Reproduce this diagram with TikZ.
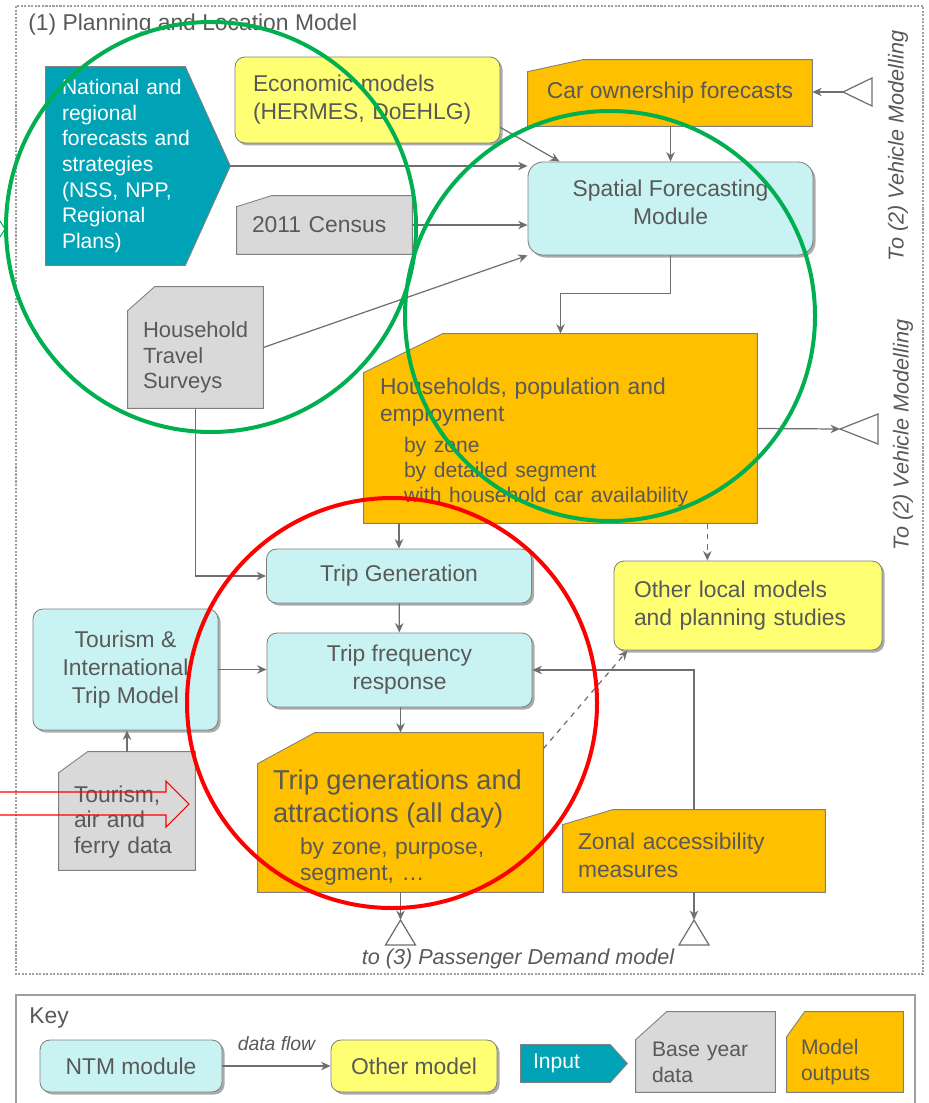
\documentclass[tikz,border=0pt]{standalone}
\usepackage{fontspec}
\setmainfont{Liberation Sans}
\usepackage{xcolor}
\usetikzlibrary{shapes,arrows.meta,positioning,calc,backgrounds,shadows}
\definecolor{ntmcyan}{HTML}{C9F3F3}
\definecolor{othyellow}{HTML}{FFFF73}
\definecolor{inteal}{HTML}{00A3B5}
\definecolor{basegrey}{HTML}{D9D9D9}
\definecolor{outorange}{HTML}{FFC000}
\definecolor{txtgrey}{HTML}{595959}
\definecolor{edgegrey}{HTML}{808080}
\definecolor{linegrey}{HTML}{6F6F6F}
\definecolor{markgreen}{HTML}{00B050}
\definecolor{markred}{HTML}{FF0000}
\hyphenpenalty=10000
\exhyphenpenalty=10000
\tikzset{
    module/.style={rectangle,draw=edgegrey,line width=0.5pt,fill=ntmcyan,rounded corners=0.2cm,
                   drop shadow={shadow xshift=0.05cm,shadow yshift=-0.05cm,fill=black!55,opacity=0.6},
                   text=txtgrey,align=center,inner sep=0pt,font=\fontsize{13}{16}\selectfont},
    cutbox/.style={rectangle,inner ysep=0pt,text=txtgrey,align=left,font=\fontsize{13}{16}\selectfont},
    arrow/.style={->,>={Stealth[length=0.19cm,width=0.17cm]},draw=linegrey,line width=0.7pt},
}

\begin{document}
\begin{tikzpicture}[
    x=0.2mm, y=-0.2mm,
    note/.style={text=txtgrey,font=\fontsize{12.3}{14}\selectfont\itshape,inner sep=0pt},
    endmark/.style={draw=linegrey,line width=0.7pt,fill=white},
    frame/.style={draw=gray!75,line width=0.6pt,dash pattern=on 1.2pt off 0.8pt},
    shapefill/.style={draw=edgegrey,line width=0.5pt},
    ring/.style={line width=0.08cm},
]
    \useasboundingbox (0,0) rectangle (928,1103);

    % ---- title ----
    \node[anchor=west,text=txtgrey,font=\fontsize{13}{16}\selectfont,inner sep=0pt] (title) at (28,25)
        {(1) Planning and Location Model};

    % ---- inputs and base data ----
    \node[cutbox,text=white,font=\fontsize{12}{14.6}\selectfont,text width=3.04cm,inner xsep=0.32cm,
          minimum width=3.68cm,minimum height=3.96cm] (nat) at (138,166)
        {National and\\regional\\forecasts and\\strategies\\(NSS, NPP,\\Regional\\Plans)};
    \node[module,fill=othyellow,align=left,text width=4.58cm,inner xsep=0.36cm,
          minimum width=5.3cm,minimum height=1.72cm] (eco) at (367.5,100)
        {Economic models\\(HERMES, DoEHLG)};
    \node[cutbox,align=center,minimum width=5.68cm,minimum height=1.32cm] (car) at (670,93)
        {Car ownership forecasts\rule[-0.12cm]{0pt}{0.12cm}};
    \node[cutbox,text width=2.9cm,inner xsep=0.3cm,minimum width=3.5cm,minimum height=1.16cm] (cen) at (324.5,225)
        {2011 Census};
    \node[cutbox,font=\fontsize{12.5}{14.5}\selectfont,text width=2.1cm,inner xsep=0.3cm,
          minimum width=2.7cm,minimum height=2.42cm] (hts) at (195.5,347.5)
        {\rule{0pt}{0.73cm}Household\\Travel\\Surveys};

    % ---- modules ----
    \node[module,rounded corners=0.3cm,minimum width=5.7cm,minimum height=1.86cm] (sp) at (670.5,208.5)
        {Spatial Forecasting\\Module\rule[-0.24cm]{0pt}{0.24cm}};
    \node[cutbox,font=\fontsize{13}{15.2}\selectfont,text width=7.22cm,inner xsep=0.32cm,
          minimum width=7.86cm,minimum height=3.78cm] (hh) at (560.5,428.5)
        {\rule{0pt}{0.9cm}Households, population and\\
         employment\\[3pt]
         {\fontsize{12}{14.4}\selectfont
         \hspace*{0.48cm}by zone\\
         \hspace*{0.48cm}by detailed segment\\
         \hspace*{0.48cm}with household car availability\par}};
    \node[module,fill=othyellow,align=left,text width=4.56cm,inner xsep=0.4cm,
          minimum width=5.36cm,minimum height=1.78cm] (oth) at (748,605.5)
        {Other local models\\and planning studies};
    \node[module,minimum width=5.3cm,minimum height=1.08cm] (tg) at (399,576)
        {Trip Generation};
    \node[module,minimum width=5.3cm,minimum height=1.48cm] (tf) at (399.5,670)
        {Trip frequency\\response};
    \node[module,minimum width=3.7cm,minimum height=2.42cm] (tim) at (125.5,669.5)
        {Tourism \&\\International\\Trip Model};
    \node[cutbox,font=\fontsize{13}{14.7}\selectfont,text width=2.12cm,inner xsep=0.3cm,
          minimum width=2.72cm,minimum height=2.36cm] (tdat) at (127,811)
        {\rule{0pt}{0.77cm}Tourism,\\air and\\ferry data};
    \node[cutbox,font=\fontsize{13}{14.7}\selectfont,text width=5.1cm,inner xsep=0.3cm,
          minimum width=5.7cm,minimum height=3.18cm] (tga) at (400.5,812.5)
        {\rule{0pt}{0.99cm}{\fontsize{15.5}{18.7}\selectfont Trip generations and\\
         attractions (all day)\\[3.5pt]}
         \hspace*{0.54cm}by zone, purpose,\\
         \hspace*{0.54cm}segment, \ldots};
    \node[cutbox,text width=4.64cm,inner xsep=0.3cm,minimum width=5.24cm,minimum height=1.64cm] (zon) at (694,851)
        {\rule{0pt}{0.51cm}Zonal accessibility\\measures};

    % ---- outside links ----
    \coordinate (vm1) at (843,92);
    \coordinate (vm2) at (840,429);
    \coordinate (tp1) at (400.5,920);
    \coordinate (tp2) at (694,920);
    \node[note,rotate=90] (vmt1) at (898,146) {To (2) Vehicle Modelling};
    \node[note,rotate=90] (vmt2) at (903,435) {To (2) Vehicle Modelling};
    \node[note] (psg) at (518,959) {to (3) Passenger Demand model};

    % ---- key ----
    \node[anchor=west,text=txtgrey,font=\fontsize{13}{16}\selectfont,inner sep=0pt] (key) at (29,1018) {Key};
    \node[module,minimum width=3.64cm,minimum height=1.04cm] (kntm) at (131,1066) {NTM module};
    \node[module,fill=othyellow,minimum width=3.32cm,minimum height=1.04cm] (koth) at (414,1066) {Other model};
    \node[cutbox,text=white,font=\fontsize{12}{14}\selectfont,text width=1.64cm,inner xsep=0.24cm,
          minimum width=2.12cm,minimum height=0.74cm] (kin) at (574,1063.5) {Input};
    \node[cutbox,font=\fontsize{12}{14.7}\selectfont,text width=2.14cm,inner xsep=0.32cm,
          minimum width=2.78cm,minimum height=1.6cm] (kbase) at (705.5,1052)
        {\rule{0pt}{0.7cm}Base year\\data};
    \node[cutbox,font=\fontsize{12}{14.7}\selectfont,text width=1.76cm,inner xsep=0.28cm,
          minimum width=2.32cm,minimum height=1.6cm] (kout) at (845,1052)
        {\rule{0pt}{0.7cm}Model\\outputs};

    % ---- shapes behind the text ----
    \begin{scope}[on background layer]
        \draw[frame] (16,6) rectangle (923,974);
        \draw[draw=gray!75,line width=0.8pt] (16,995) rectangle (915,1115);
        \filldraw[shapefill,fill=inteal] (nat.north west) -- ([xshift=-0.9cm]nat.north east) -- (nat.east)
            -- ([xshift=-0.9cm]nat.south east) -- (nat.south west) -- cycle;
        \filldraw[shapefill,fill=outorange] (car.south west) -- ([yshift=-0.24cm]car.north west)
            -- ([xshift=1.1cm]car.north west) -- (car.north east) -- (car.south east) -- cycle;
        \filldraw[shapefill,fill=basegrey] (cen.south west) -- ([yshift=-0.22cm]cen.north west)
            -- ([xshift=0.7cm]cen.north west) -- (cen.north east) -- (cen.south east) -- cycle;
        \filldraw[shapefill,fill=basegrey] (hts.south west) -- ([yshift=-0.48cm]hts.north west)
            -- ([xshift=0.54cm]hts.north west) -- (hts.north east) -- (hts.south east) -- cycle;
        \filldraw[shapefill,fill=outorange] (hh.south west) -- ([yshift=-0.78cm]hh.north west)
            -- ([xshift=1.58cm]hh.north west) -- (hh.north east) -- (hh.south east) -- cycle;
        \filldraw[shapefill,fill=basegrey] (tdat.south west) -- ([yshift=-0.42cm]tdat.north west)
            -- ([xshift=0.58cm]tdat.north west) -- (tdat.north east) -- (tdat.south east) -- cycle;
        \filldraw[shapefill,fill=outorange] (tga.south west) -- ([yshift=-0.62cm]tga.north west)
            -- ([xshift=1.14cm]tga.north west) -- (tga.north east) -- (tga.south east) -- cycle;
        \filldraw[shapefill,fill=outorange] (zon.south west) -- ([yshift=-0.3cm]zon.north west)
            -- ([xshift=1.0cm]zon.north west) -- (zon.north east) -- (zon.south east) -- cycle;
        \filldraw[shapefill,fill=inteal] (kin.north west) -- ([xshift=-0.34cm]kin.north east) -- (kin.east)
            -- ([xshift=-0.34cm]kin.south east) -- (kin.south west) -- cycle;
        \filldraw[shapefill,fill=basegrey] (kbase.south west) -- ([yshift=-0.56cm]kbase.north west)
            -- ([xshift=0.62cm]kbase.north west) -- (kbase.north east) -- (kbase.south east) -- cycle;
        \filldraw[shapefill,fill=outorange] (kout.south west) -- ([yshift=-0.5cm]kout.north west)
            -- ([xshift=0.36cm]kout.north west) -- (kout.north east) -- (kout.south east) -- cycle;
    \end{scope}

    % ---- end marks ----
    \draw[endmark] (vm1) -- ++(29,-14) -- ++(0,28) -- cycle;
    \draw[endmark] (vm2) -- ++(38,-15) -- ++(0,30) -- cycle;
    \draw[endmark] (tp1) -- ++(-15,25) -- ++(30,0) -- cycle;
    \draw[endmark] (tp2) -- ++(-15,25) -- ++(30,0) -- cycle;

    % ---- connectors ----
    \draw[arrow] (nat.east) -- (nat.east -| sp.west);
    \draw[arrow] ([yshift=0.32cm]eco.south east) -- ([xshift=0.64cm]sp.north west);
    \draw[arrow] (car.south -| sp.north) -- (sp.north);
    \draw[arrow] (cen.east) -- (cen.east -| sp.west);
    \draw[arrow] (hts.east) -- (sp.south west);
    \draw[arrow] (vm1) -- (vm1 -| car.east);
    \draw[arrow] (sp.south) -- ++(0,38) -| (hh.north);
    \draw[arrow] (hh.east) -- (vm2);
    \draw[arrow,dashed] ([xshift=-1cm]hh.south east) -- ([xshift=-1cm]hh.south east |- oth.north);
    \draw[arrow] (hh.south -| tg.north) -- (tg.north);
    \draw[arrow] (hts.south) |- (tg.west);
    \draw[arrow] (tg) -- (tf);
    \draw[arrow] (tim.east) -- (tim.east -| tf.west);
    \draw[arrow] (tdat.north) -- (tdat.north |- tim.south);
    \draw[arrow] (tf.south -| tga.north) -- (tga.north);
    \draw[arrow] (tga.south) -- (tp1);
    \draw[arrow,dashed] ([yshift=-0.32cm]tga.north east) -- ([xshift=0.28cm]oth.south west);
    \draw[arrow] (zon.north) |- (tf.east);
    \draw[arrow] (zon.south) -- (tp2);
    \draw[arrow] (kntm) -- node[note,font=\fontsize{11}{13}\selectfont\itshape,above=0.3cm] (dflow) {data flow} (koth);

    % ---- markings ----
    \draw[ring,draw=markgreen] (211,227) circle[radius=4.1cm];
    \draw[ring,draw=markgreen] (610,316) circle[radius=4.1cm];
    \draw[ring,draw=markred] (392,703) circle[radius=4.1cm];
    \draw[markred,line width=0.6pt] (0,792) -- (166,792) -- (166,781) -- (189,804) -- (166,827) -- (166,815) -- (0,815);
    \draw[markgreen,line width=0.6pt] (0,221) -- (5,229) -- (0,237);

\end{tikzpicture}
\end{document}
